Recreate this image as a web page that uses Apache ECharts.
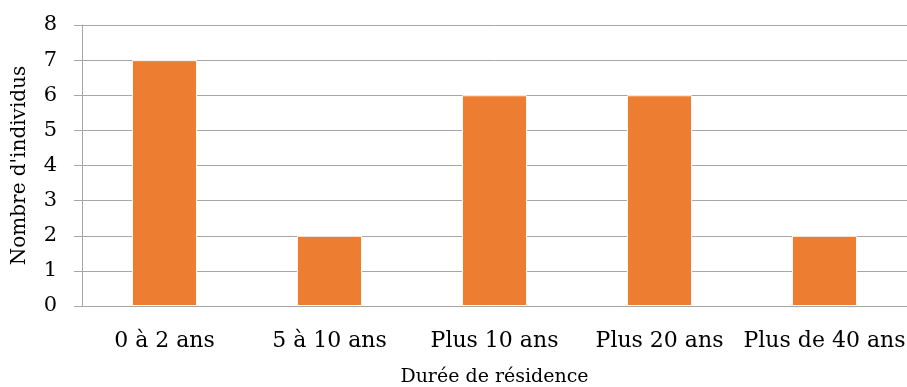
<!DOCTYPE html>
<html><head><meta charset="utf-8">
<script src="https://cdn.jsdelivr.net/npm/echarts@6/dist/echarts.min.js"></script>
<style>html,body{margin:0;padding:0;background:#fff}#c{width:907px;height:387px}</style>
</head><body><div id="c"></div>
<script>
var categories = ['0 à 2 ans', '5 à 10 ans', 'Plus 10 ans', 'Plus 20 ans', 'Plus de 40 ans'];
var values = [7, 2, 6, 6, 2];
var xTitle = 'Durée de résidence';
var yTitle = "Nombre d'individus";

var font = '"DejaVu Serif", serif';
var chart = echarts.init(document.getElementById('c'), null, {renderer: 'canvas'});
chart.setOption({
  animation: false,
  grid: {left: 82, right: 0, top: 25, bottom: 81, containLabel: false, outerBoundsMode: 'none'},
  xAxis: {
    type: 'category', data: categories,
    name: xTitle, nameLocation: 'middle', nameGap: 62,
    nameTextStyle: {fontFamily: font, fontSize: 19, color: '#000'},
    axisLine: {lineStyle: {color: '#a6a6a6', width: 1}},
    axisTick: {show: false},
    axisLabel: {fontFamily: font, fontSize: 22, color: '#000', margin: 24, interval: 0}
  },
  yAxis: {
    type: 'value', min: 0, max: 8, interval: 1,
    name: yTitle, nameLocation: 'middle', nameGap: 52,
    nameTextStyle: {fontFamily: font, fontSize: 20, color: '#000'},
    axisLine: {show: true, lineStyle: {color: '#a6a6a6', width: 1}},
    axisTick: {show: true, length: 8, lineStyle: {color: '#a6a6a6'}},
    axisLabel: {fontFamily: font, fontSize: 21, color: '#000', margin: 25},
    splitLine: {lineStyle: {color: '#a6a6a6', width: 1}}
  },
  series: [{
    type: 'bar', data: values, barWidth: '39.5%',
    itemStyle: {color: '#ED7D31', borderColor: '#ffffff', borderWidth: 1}
  }]
});
</script></body></html>
